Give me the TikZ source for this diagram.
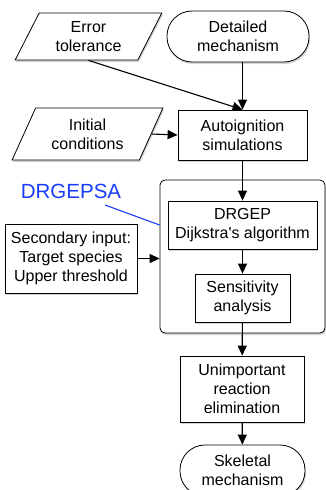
\documentclass[tikz,border=0pt]{standalone}
\usepackage{fontspec}
\setmainfont{Liberation Sans}
\usetikzlibrary{shapes.geometric,shadows,arrows.meta}

\definecolor{labelblue}{RGB}{25,60,250}

\tikzset{
	shade/.style	= {drop shadow={shadow xshift=1pt, shadow yshift=-2pt, opacity=0.35}},
	process/.style	= {draw, line width=0.8pt, fill=white, shade, align=center, inner sep=0pt},
	datain/.style	= {process, trapezium, trapezium left angle=62, trapezium right angle=118,
					   trapezium stretches=true},
	terminal/.style	= {process, rounded corners=25pt},
	group/.style	= {process, rounded corners=5pt},
	arr/.style		= {-{Triangle[length=10pt,width=9pt]}, line width=1.1pt},
	note/.style		= {labelblue, line width=1.1pt}
}

\begin{document}
\begin{tikzpicture}[x=1pt, y=-1pt, font=\fontsize{16}{19}\selectfont]
	%\draw[help lines] (0,0) grid (326,490);
	\useasboundingbox (0,0) rectangle (326,490);
	
	% inputs
	\node[datain, minimum width=147pt, minimum height=47pt] (err) at (88.5,36.5) {Error\\tolerance};
	\node[terminal, minimum width=142pt, minimum height=51pt] (det) at (238,36.5) {Detailed\\mechanism};
	\node[datain, minimum width=151pt, minimum height=52pt] (ini) at (87.5,134) {Initial\\conditions};
	\node[process, minimum width=129pt, minimum height=50pt] (auto) at (242.5,135) {Autoignition\\simulations};
	
	% DRGEPSA block
	\node[group, minimum width=165pt, minimum height=153pt] (grp) at (242.5,256.5) {};
	\node[process, minimum width=149pt, minimum height=48pt] (drg) at (242.5,225) {DRGEP\\Dijkstra\textquotesingle s algorithm};
	\node[process, minimum width=95pt, minimum height=48pt] (sens) at (242.5,298) {Sensitivity\\analysis};
	\node[process, minimum width=132pt, minimum height=69pt] (sec) at (71,258.5) {Secondary input:\\Target species\\Upper threshold};
	\node[labelblue, font=\fontsize{20.5}{24}\selectfont] (lbl) at (71,191) {DRGEPSA};
	\coordinate (lbltail) at (105,205);
	
	% output
	\node[process, minimum width=124pt, minimum height=66pt] (unimp) at (242,389) {Unimportant\\reaction\\elimination};
	\node[terminal, minimum width=125pt, minimum height=51pt] (skel) at (242.5,470.5) {Skeletal\\mechanism};
	
	\draw[arr] (err.center |- err.south) -- (auto.north);
	\draw[arr] (det.south -| auto.north) -- (auto.north);
	\draw[arr] (ini.east) -- (auto.west);
	\draw[arr] (auto) -- (drg);
	\draw[arr] (drg) -- (sens);
	\draw[arr] (sec.east) -- (sec.east -| grp.west);
	\draw[arr] (sens) -- (unimp);
	\draw[arr] (unimp) -- (skel);
	\draw[note] (lbltail) -- (grp.west |- 0,225);
\end{tikzpicture}
\end{document}
